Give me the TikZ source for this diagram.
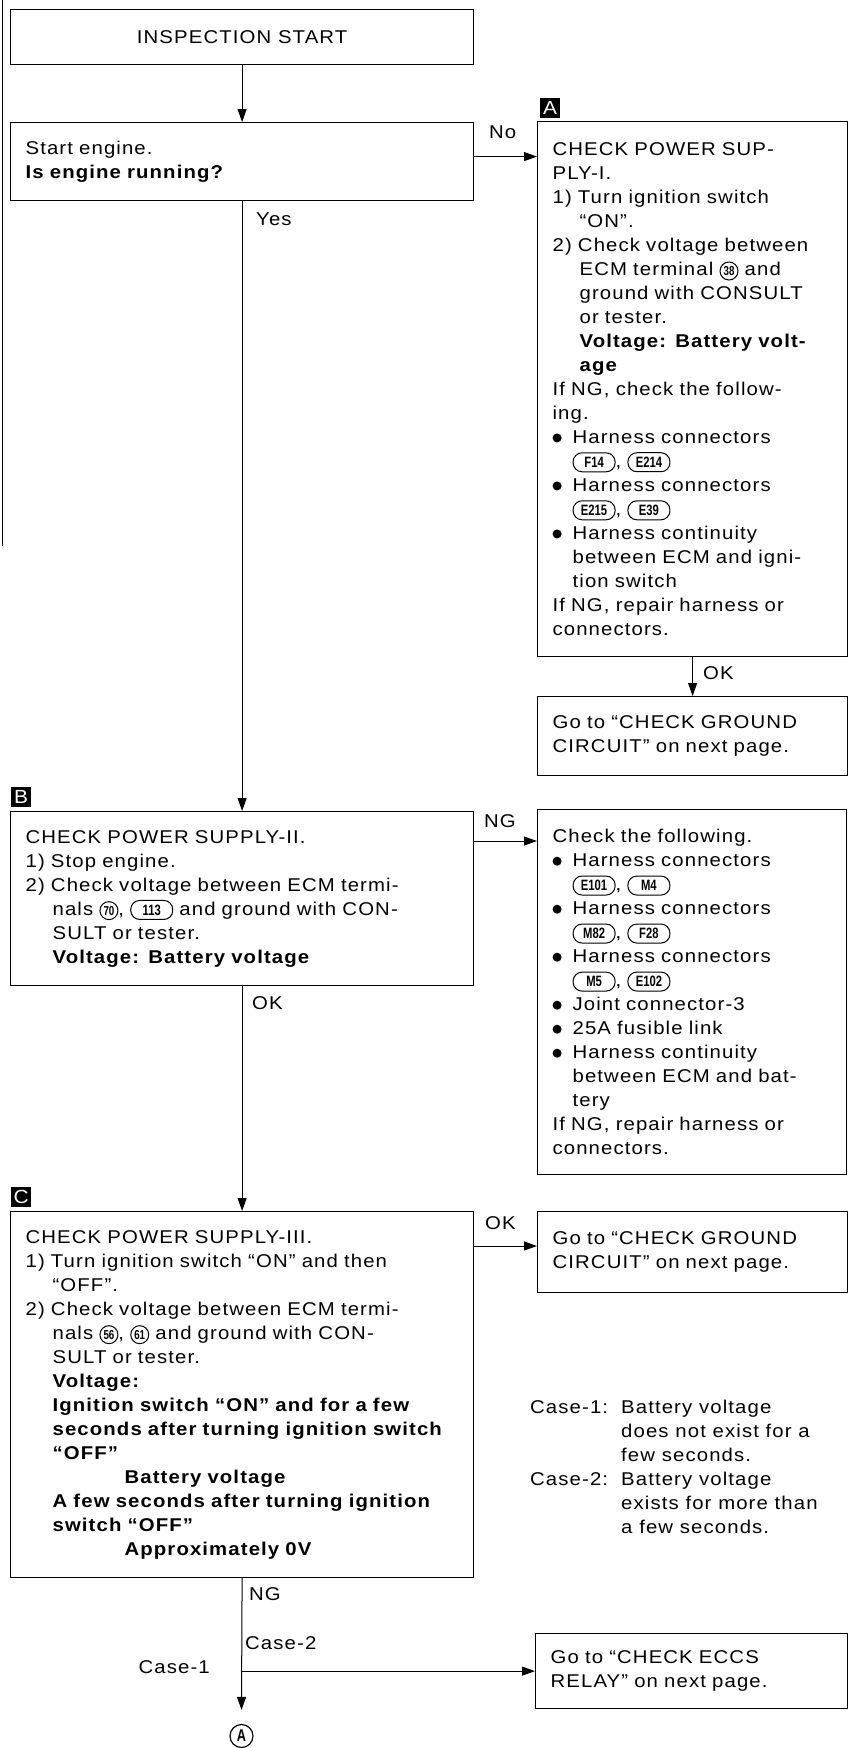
\documentclass[tikz,border=0pt]{standalone}
\usepackage{fontspec}
\setmainfont{Liberation Sans}[FakeStretch=1.1,LetterSpace=6]
\newfontfamily\pinfont{Liberation Sans}[FakeStretch=0.75]
\usetikzlibrary{arrows.meta,positioning}

\tikzset{
	box/.style={draw, line width=1.2pt, anchor=north west, inner xsep=15pt, inner ysep=0pt, align=left, font=\fontsize{18.5}{24}\selectfont},
	lbl/.style={inner sep=0pt, font=\fontsize{18.5}{24}\selectfont},
	tag/.style={fill=black, text=white, minimum size=20pt, inner sep=0pt, font=\fontsize{19}{19}\selectfont},
	arr/.style={line width=1pt, -{Triangle[length=13pt,width=9pt]}},
	ln/.style={line width=0.8pt}
}

\newcommand{\pin}[1]{\tikz[baseline=(p.base)]\node[draw, line width=1pt, rounded corners=9pt, minimum width=42pt, minimum height=19pt, inner sep=1pt, text width={}, align=center, anchor=center, font=\pinfont\bfseries\fontsize{15}{15}\selectfont] (p) {#1};}
\newcommand{\term}[1]{\tikz[baseline=(t.base)]\node[draw, circle, line width=1pt, inner sep=0.5pt, minimum size=18pt, text width={}, align=center, anchor=center, font=\pinfont\bfseries\fontsize{13}{13}\selectfont] (t) {#1};}
\newcommand{\bul}{\makebox[20pt][l]{\tikz[baseline=-5.5pt]\fill (4.5pt,0pt) circle (4.5pt);}}
\newcommand{\ind}{\hspace*{27pt}}
\newcommand{\indb}{\hspace*{20pt}}

\begin{document}
\begin{tikzpicture}[x=1pt,y=-1pt]
	\useasboundingbox (0,0) rectangle (849,1748);
	\draw[ln] (2,0) -- (2,546);

	\node[box, align=center, minimum width=463pt, minimum height=55pt] (insp) at (10,9) {INSPECTION START};
	\node[box, text width=433pt, minimum height=78pt] (start) at (10,122) {Start engine.\\\textbf{Is engine running?}};

	\node[box, text width=280pt, minimum height=535pt] (ckA) at (537,121) {CHECK POWER SUP-\\PLY-I.\\1) Turn ignition switch\\\ind “ON”.\\2) Check voltage between\\\ind ECM terminal \term{38} and\\\ind ground with CONSULT\\\ind or tester.\\\ind \textbf{Voltage: Battery volt-}\\\ind \textbf{age}\\If NG, check the follow-\\ing.\\\bul Harness connectors\\\indb\pin{F14}, \pin{E214}\\\bul Harness connectors\\\indb\pin{E215}, \pin{E39}\\\bul Harness continuity\\\indb between ECM and igni-\\\indb tion switch\\If NG, repair harness or\\connectors.};
	\node[tag, above right=3pt and 3pt of ckA.north west] (tagA) {A};
	\node[box, text width=280pt, minimum height=79pt] (goA) at (537,696) {Go to “CHECK GROUND\\CIRCUIT” on next page.};

	\node[box, text width=433pt, minimum height=174pt] (ckB) at (10,811) {CHECK POWER SUPPLY-II.\\1) Stop engine.\\2) Check voltage between ECM termi-\\\ind nals \term{70}, \pin{113} and ground with CON-\\\ind SULT or tester.\\\ind \textbf{Voltage: Battery voltage}};
	\node[tag, above right=4pt and 1pt of ckB.north west] (tagB) {B};
	\node[box, text width=279pt, minimum height=365pt] (ckF) at (537,809) {Check the following.\\\bul Harness connectors\\\indb\pin{E101}, \pin{M4}\\\bul Harness connectors\\\indb\pin{M82}, \pin{F28}\\\bul Harness connectors\\\indb\pin{M5}, \pin{E102}\\\bul Joint connector-3\\\bul 25A fusible link\\\bul Harness continuity\\\indb between ECM and bat-\\\indb tery\\If NG, repair harness or\\connectors.};

	\node[box, text width=433pt, minimum height=366pt] (ckC) at (10,1211) {CHECK POWER SUPPLY-III.\\1) Turn ignition switch “ON” and then\\\ind “OFF”.\\2) Check voltage between ECM termi-\\\ind nals \term{56}, \term{61} and ground with CON-\\\ind SULT or tester.\\\ind \textbf{Voltage:}\\\ind \textbf{Ignition switch “ON” and for a few}\\\ind \textbf{seconds after turning ignition switch}\\\ind \textbf{“OFF”}\\\hspace*{99pt}\textbf{Battery voltage}\\\ind \textbf{A few seconds after turning ignition}\\\ind \textbf{switch “OFF”}\\\hspace*{99pt}\textbf{Approximately 0V}};
	\node[tag, above right=4pt and 1pt of ckC.north west] (tagC) {C};
	\node[box, text width=280pt, minimum height=81pt] (goC) at (537,1211) {Go to “CHECK GROUND\\CIRCUIT” on next page.};

	\node[lbl, align=left, anchor=north west] (cases) at (530,1400) {\makebox[91pt][l]{Case-1:}Battery voltage\\\hspace*{91pt}does not exist for a\\\hspace*{91pt}few seconds.\\\makebox[91pt][l]{Case-2:}Battery voltage\\\hspace*{91pt}exists for more than\\\hspace*{91pt}a few seconds.};

	\node[box, text width=282pt, minimum height=75pt] (goE) at (535,1633) {Go to “CHECK ECCS\\RELAY” on next page.};
	\node[draw, circle, line width=1.2pt, inner sep=0pt, minimum size=23pt, font=\pinfont\bfseries\fontsize{17}{17}\selectfont] (cA) at (241.5,1736) {A};

	\coordinate (no) at ([yshift=5pt]start.east);
	\coordinate (ng) at ([yshift=-30pt]ckB.north east);
	\coordinate (ok) at ([yshift=-35pt]ckC.north east);
	\coordinate (br) at (ckC.south |- goE.west);

	\draw[arr] (insp) -- (start);
	\draw[arr] (no) -- (no -| ckA.west);
	\draw[arr] (start) -- (ckB);
	\draw[arr] (ckA) -- (goA);
	\draw[arr] (ng) -- (ng -| ckF.west);
	\draw[arr] (ckB) -- (ckC);
	\draw[arr] (ok) -- (ok -| goC.west);
	\draw[arr] (ckC.south) -- ([yshift=14pt]cA.north);
	\draw[arr] (br) -- (goE.west);

	\node[lbl, anchor=base west] (yes) at (256,225) {Yes};
	\node[lbl, anchor=base west] (nolbl) at (489,138) {No};
	\node[lbl, anchor=base west] (okA) at (703,679) {OK};
	\node[lbl, anchor=base west] (ngB) at (484,827) {NG};
	\node[lbl, anchor=base west] (okB) at (252,1009) {OK};
	\node[lbl, anchor=base west] (okC) at (485,1229) {OK};
	\node[lbl, anchor=base west] (ngC) at (249,1600) {NG};
	\node[lbl, anchor=base west] (case2) at (245,1649) {Case-2};
	\node[lbl, anchor=base east] (case1) at (210,1673) {Case-1};
\end{tikzpicture}
\end{document}
